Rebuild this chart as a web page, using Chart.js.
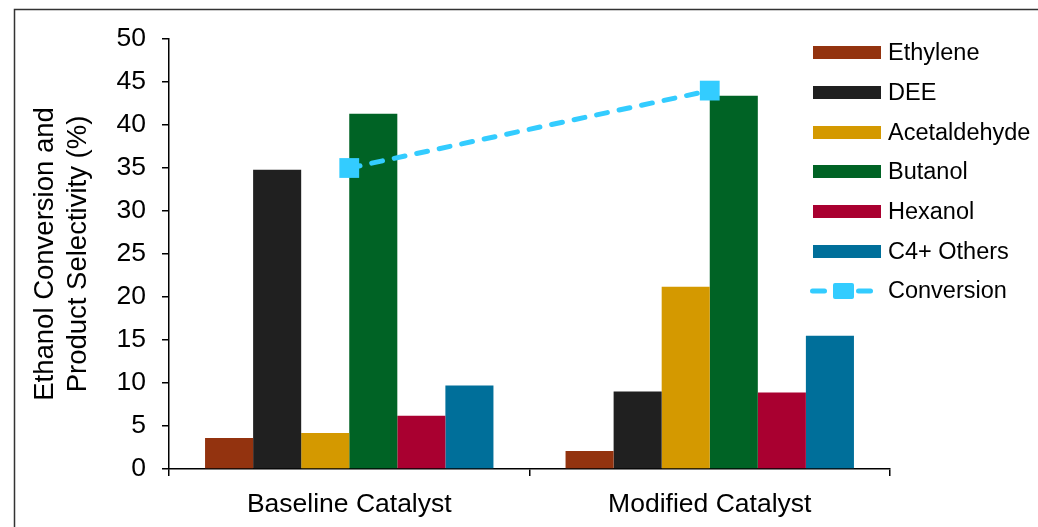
<!DOCTYPE html>
<html>
<head>
<meta charset="utf-8">
<script src="https://cdn.jsdelivr.net/npm/chart.js@4"></script>
<style>
  html, body { margin: 0; padding: 0; background: #fff; }
  #wrap { position: relative; width: 1038px; height: 527px; overflow: hidden; }
  #legend { position: absolute; left: 813px; top: 33px; font-family: "Liberation Sans", Arial, sans-serif; font-size: 23.5px; color: #000; }
  .row { display: flex; align-items: center; height: 39.7px; white-space: nowrap; }
  .box { width: 68px; height: 13px; margin-right: 7px; flex: none; }
</style>
</head>
<body>
<div id="wrap">
  <canvas id="chart" width="1038" height="527"></canvas>
  <div id="legend"></div>
</div>
<script>
const categories = ["Baseline Catalyst", "Modified Catalyst"]
const seriesNames = ["Ethylene", "DEE", "Acetaldehyde", "Butanol", "Hexanol", "C4+ Others"]
const seriesColors = ["#93330f", "#202020", "#d49900", "#006325", "#a90030", "#006f9a"]
const ethylene = [3.6, 2.1]
const dee = [34.8, 9.0]
const acetaldehyde = [4.2, 21.2]
const butanol = [41.3, 43.4]
const hexanol = [6.2, 8.9]
const c4Others = [9.7, 15.5]
const conversion = [35, 44]
const yTicks = [0, 5, 10, 15, 20, 25, 30, 35, 40, 45, 50]

const FONT = "'Liberation Sans', Arial, sans-serif"
const barValues = [ethylene, dee, acetaldehyde, butanol, hexanol, c4Others]

const datasets = barValues.map((vals, i) => ({
  type: "bar",
  label: seriesNames[i],
  data: vals,
  backgroundColor: seriesColors[i],
  categoryPercentage: 0.8,
  barPercentage: 1.0,
  order: 1
}))

datasets.push({
  type: "line",
  label: "Conversion",
  data: conversion,
  borderColor: "#33ccff",
  backgroundColor: "#33ccff",
  borderWidth: 5,
  borderDash: [11, 12],
  borderCapStyle: "round",
  pointStyle: "rect",
  pointRadius: 14,
  pointHoverRadius: 14,
  pointBackgroundColor: "#33ccff",
  pointBorderWidth: 0,
  order: 0
})

// outer frame of the figure
const framePlugin = {
  id: "frame",
  beforeDraw(chart) {
    const ctx = chart.ctx
    ctx.save()
    ctx.strokeStyle = "#333"
    ctx.lineWidth = 1.5
    ctx.strokeRect(14.5, 9.5, 1200, 700)
    ctx.restore()
  }
}

const chart = new Chart(document.getElementById("chart"), {
  data: { labels: categories, datasets },
  plugins: [framePlugin],
  options: {
    responsive: false,
    animation: false,
    events: [],
    layout: { padding: { left: 0, right: 148, top: 39, bottom: 0 } },
    plugins: {
      legend: { display: false },
      tooltip: { enabled: false }
    },
    scales: {
      x: {
        offset: true,
        grid: { offset: true, drawOnChartArea: false, color: "#000", lineWidth: 1.5, tickLength: 7 },
        border: { color: "#000", width: 1.5 },
        ticks: { color: "#000", font: { family: FONT, size: 26.5 }, padding: 13 },
        afterFit(scale) { scale.height = 58 }
      },
      y: {
        min: 0,
        max: 50,
        afterBuildTicks(scale) { scale.ticks = yTicks.map(v => ({ value: v })) },
        grid: { drawOnChartArea: false, color: "#000", lineWidth: 1.5, tickLength: 7 },
        border: { color: "#000", width: 1.5 },
        ticks: { color: "#000", font: { family: FONT, size: 26.5 }, padding: 16 },
        title: {
          display: true,
          text: ["Ethanol Conversion and", "Product Selectivity (%)"],
          color: "#000",
          font: { family: FONT, size: 27.5, lineHeight: 1.2 },
          padding: { top: 28.5, bottom: 0 }
        },
        afterFit(scale) { scale.width = 169 }
      }
    }
  }
})

// legend built from the chart's datasets
const legend = document.getElementById("legend")
chart.data.datasets.forEach(ds => {
  const row = document.createElement("div")
  row.className = "row"
  let sample
  if (ds.type === "line") {
    sample = document.createElementNS("http://www.w3.org/2000/svg", "svg")
    sample.setAttribute("width", "68")
    sample.setAttribute("height", "20")
    sample.style.marginRight = "7px"
    sample.style.flex = "none"
    sample.style.overflow = "visible"
    const c = ds.borderColor
    sample.innerHTML =
      '<line x1="-0.5" y1="10" x2="11.5" y2="10" stroke="' + c + '" stroke-width="5" stroke-linecap="round"/>' +
      '<line x1="45.5" y1="10" x2="57.5" y2="10" stroke="' + c + '" stroke-width="5" stroke-linecap="round"/>' +
      '<rect x="20" y="2" width="21" height="16" rx="2" fill="' + c + '"/>'
  } else {
    sample = document.createElement("div")
    sample.className = "box"
    sample.style.background = ds.backgroundColor
  }
  const label = document.createElement("span")
  label.textContent = ds.label
  row.appendChild(sample)
  row.appendChild(label)
  legend.appendChild(row)
})
</script>
</body>
</html>
